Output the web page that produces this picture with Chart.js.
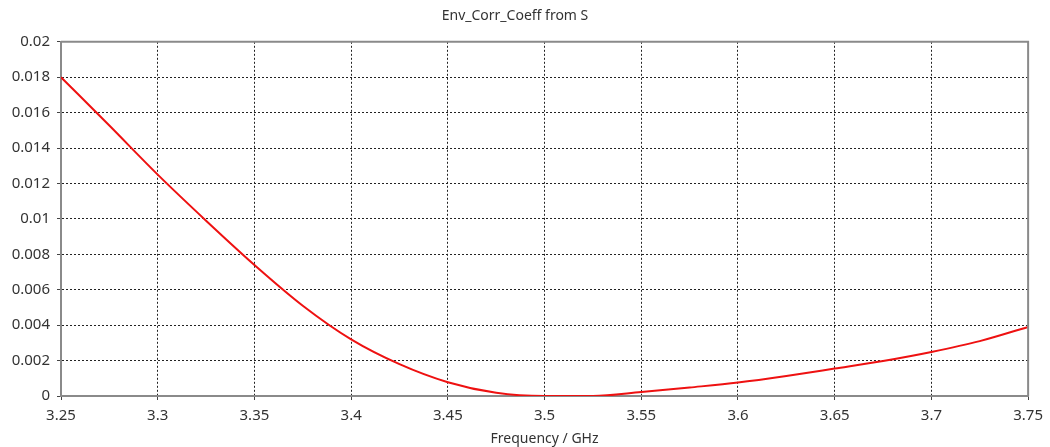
<!DOCTYPE html>
<html>
<head>
<meta charset="utf-8">
<script src="https://cdn.jsdelivr.net/npm/chart.js@4/dist/chart.umd.min.js"></script>
<style>
  html, body { margin: 0; padding: 0; background: #fff; }
  #wrap { width: 1050px; height: 447px; }
</style>
</head>
<body>
<div id="wrap"><canvas id="eccChart"></canvas></div>
<script>
// Envelope correlation coefficient computed from S-parameters
const freqGHz = [3.25, 3.275, 3.3, 3.325, 3.35, 3.375, 3.4, 3.425, 3.45, 3.475, 3.5,
                 3.525, 3.55, 3.575, 3.6, 3.625, 3.65, 3.675, 3.7, 3.725, 3.75];
const ecc = [0.0180, 0.01527, 0.0125, 0.0099, 0.0074, 0.0051, 0.0032, 0.0018, 0.00078, 0.00018, 0.0,
             0.0, 0.00022, 0.00048, 0.00076, 0.00113, 0.00155, 0.00198, 0.00249, 0.0031, 0.0039];

const xMin = 3.25, xMax = 3.75, xStep = 0.05;
const yMin = 0, yMax = 0.02, yStep = 0.002;

const textColor = '#333';
const gridColor = '#222';
const frameColor = '#8a8a8a';
const fontFamily = "'Noto Sans', 'Open Sans', sans-serif";

// solid frame on the top and right edges of the plot
const frameBox = {
  id: 'frameBox',
  afterDraw(chart) {
    const { ctx, chartArea: a } = chart;
    ctx.save();
    ctx.strokeStyle = frameColor;
    ctx.lineWidth = 2;
    ctx.beginPath();
    ctx.moveTo(a.left, a.top);
    ctx.lineTo(a.right, a.top);
    ctx.lineTo(a.right, a.bottom);
    ctx.stroke();
    ctx.restore();
  }
};

new Chart(document.getElementById('eccChart'), {
  type: 'line',
  data: {
    datasets: [{
      label: 'Env_Corr_Coeff',
      data: freqGHz.map((f, i) => ({ x: f, y: ecc[i] })),
      borderColor: '#ee1111',
      borderWidth: 2,
      pointRadius: 0,
      cubicInterpolationMode: 'monotone',
      fill: false
    }]
  },
  options: {
    responsive: true,
    maintainAspectRatio: false,
    animation: false,
    layout: { padding: { left: 0, right: 20, top: 0, bottom: 0 } },
    plugins: {
      legend: { display: false },
      tooltip: { enabled: false },
      title: {
        display: true,
        text: 'Env_Corr_Coeff from S',
        color: textColor,
        font: { family: fontFamily, size: 14, weight: 'normal' },
        padding: { top: 8, bottom: 17 }
      }
    },
    scales: {
      x: {
        type: 'linear',
        min: xMin,
        max: xMax,
        afterFit(scale) { scale.height = 51; },
        afterBuildTicks(scale) {
          const t = [];
          for (let v = xMin; v <= xMax + 1e-9; v += xStep) t.push({ value: +v.toFixed(2) });
          scale.ticks = t;
        },
        ticks: {
          color: textColor,
          font: { family: fontFamily, size: 15 },
          padding: 7,
          maxRotation: 0,
          autoSkip: false,
          callback: v => String(+v.toFixed(2))
        },
        grid: { color: gridColor, lineWidth: 1, tickLength: 4, tickColor: '#444' },
        border: { color: frameColor, width: 2, dash: [2, 2] },
        title: {
          display: true,
          text: 'Frequency / GHz',
          color: textColor,
          font: { family: fontFamily, size: 14 },
          padding: { top: 0, bottom: 0 }
        }
      },
      y: {
        min: yMin,
        max: yMax,
        afterFit(scale) { scale.width = 61; },
        afterBuildTicks(scale) {
          const t = [];
          for (let v = yMin; v <= yMax + 1e-9; v += yStep) t.push({ value: +v.toFixed(3) });
          scale.ticks = t;
        },
        ticks: {
          color: textColor,
          font: { family: fontFamily, size: 15 },
          padding: 7,
          autoSkip: false,
          callback: v => String(+v.toFixed(3))
        },
        grid: { color: gridColor, lineWidth: 1, tickLength: 4, tickColor: '#444' },
        border: { color: frameColor, width: 2, dash: [2, 2] }
      }
    }
  },
  plugins: [frameBox]
});
</script>
</body>
</html>
